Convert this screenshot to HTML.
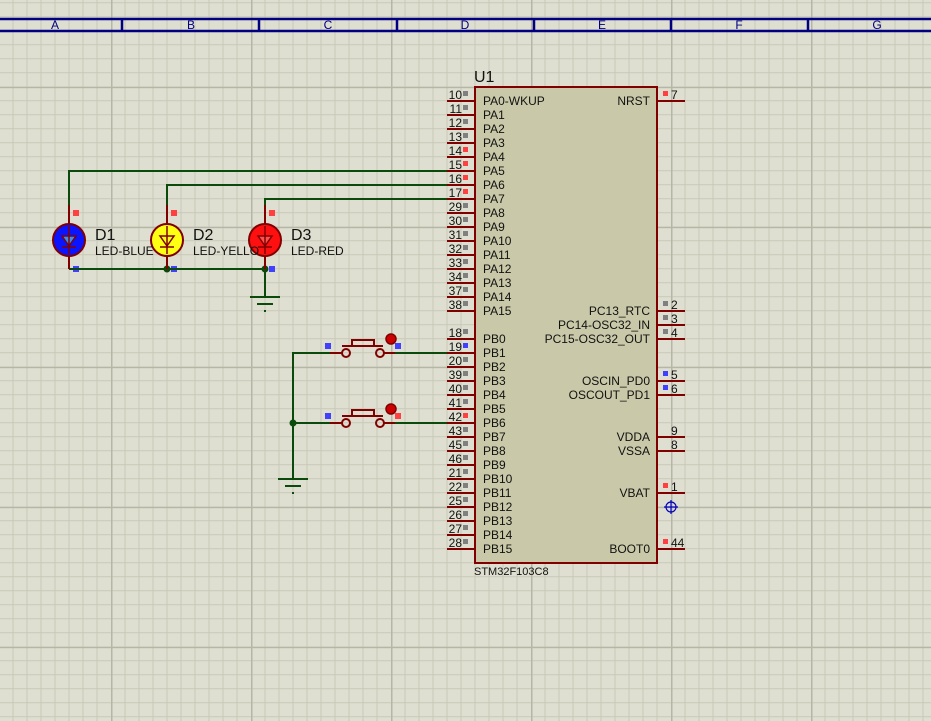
<!DOCTYPE html>
<html><head><meta charset="utf-8"><style>
html,body{margin:0;padding:0;background:#dfdfd1;}
svg{display:block;font-family:"Liberation Sans",Arial,sans-serif;}
</style></head><body>
<svg width="931" height="721" viewBox="0 0 931 721" xmlns="http://www.w3.org/2000/svg">
<defs>
<pattern id="g" x="-29" y="-53.3" width="140" height="140" patternUnits="userSpaceOnUse">
<rect width="140" height="140" fill="#dfdfd1"/>
<g stroke="#c9c9b9" stroke-width="1">
<path d="M14 0V140M28 0V140M42 0V140M56 0V140M70 0V140M84 0V140M98 0V140M112 0V140M126 0V140"/>
<path d="M0 14H140M0 28H140M0 42H140M0 56H140M0 70H140M0 84H140M0 98H140M0 112H140M0 126H140"/>
</g>
<path d="M0.5 0V140M0 0.5H140" stroke="#b6b6a6" stroke-width="2"/>
</pattern>
</defs>
<rect width="931" height="721" fill="url(#g)"/>

<!-- header -->
<g stroke="#000080" stroke-width="2.5">
<line x1="0" y1="19" x2="931" y2="19"/><line x1="0" y1="31" x2="931" y2="31"/>
<path d="M122 18V32M259 18V32M397 18V32M534 18V32M671 18V32M808 18V32"/>
</g>
<g fill="#000080" font-size="12" text-anchor="middle">
<text x="55" y="29">A</text><text x="191" y="29">B</text><text x="328" y="29">C</text><text x="465" y="29">D</text><text x="602" y="29">E</text><text x="739" y="29">F</text><text x="877" y="29">G</text>
</g>

<!-- chip -->
<text x="474" y="82" font-size="16" fill="#111">U1</text>
<rect x="475" y="87" width="182" height="476" fill="#c9c9a9" stroke="#800000" stroke-width="2"/>
<text x="474" y="575" font-size="11" fill="#111">STM32F103C8</text>

<g id="leftpins" stroke="#800000" stroke-width="2">
<path d="M447 101H475M447 115H475M447 129H475M447 143H475M447 157H475M447 171H475M447 185H475M447 199H475M447 213H475M447 227H475M447 241H475M447 255H475M447 269H475M447 283H475M447 297H475M447 311H475"/>
<path d="M447 339H475M447 353H475M447 367H475M447 381H475M447 395H475M447 409H475M447 423H475M447 437H475M447 451H475M447 465H475M447 479H475M447 493H475M447 507H475M447 521H475M447 535H475M447 549H475"/>
<path d="M657 101H685M657 311H685M657 325H685M657 339H685M657 381H685M657 395H685M657 437H685M657 451H685M657 493H685M657 549H685"/>
</g>
<g font-size="12" fill="#111">
<g text-anchor="end">
<text x="462" y="99">10</text><text x="462" y="113">11</text><text x="462" y="127">12</text><text x="462" y="141">13</text><text x="462" y="155">14</text><text x="462" y="169">15</text><text x="462" y="183">16</text><text x="462" y="197">17</text><text x="462" y="211">29</text><text x="462" y="225">30</text><text x="462" y="239">31</text><text x="462" y="253">32</text><text x="462" y="267">33</text><text x="462" y="281">34</text><text x="462" y="295">37</text><text x="462" y="309">38</text>
<text x="462" y="337">18</text><text x="462" y="351">19</text><text x="462" y="365">20</text><text x="462" y="379">39</text><text x="462" y="393">40</text><text x="462" y="407">41</text><text x="462" y="421">42</text><text x="462" y="435">43</text><text x="462" y="449">45</text><text x="462" y="463">46</text><text x="462" y="477">21</text><text x="462" y="491">22</text><text x="462" y="505">25</text><text x="462" y="519">26</text><text x="462" y="533">27</text><text x="462" y="547">28</text>
</g>
<g>
<text x="483" y="105">PA0-WKUP</text><text x="483" y="119">PA1</text><text x="483" y="133">PA2</text><text x="483" y="147">PA3</text><text x="483" y="161">PA4</text><text x="483" y="175">PA5</text><text x="483" y="189">PA6</text><text x="483" y="203">PA7</text><text x="483" y="217">PA8</text><text x="483" y="231">PA9</text><text x="483" y="245">PA10</text><text x="483" y="259">PA11</text><text x="483" y="273">PA12</text><text x="483" y="287">PA13</text><text x="483" y="301">PA14</text><text x="483" y="315">PA15</text>
<text x="483" y="343">PB0</text><text x="483" y="357">PB1</text><text x="483" y="371">PB2</text><text x="483" y="385">PB3</text><text x="483" y="399">PB4</text><text x="483" y="413">PB5</text><text x="483" y="427">PB6</text><text x="483" y="441">PB7</text><text x="483" y="455">PB8</text><text x="483" y="469">PB9</text><text x="483" y="483">PB10</text><text x="483" y="497">PB11</text><text x="483" y="511">PB12</text><text x="483" y="525">PB13</text><text x="483" y="539">PB14</text><text x="483" y="553">PB15</text>
</g>
<g text-anchor="end">
<text x="650" y="105">NRST</text><text x="650" y="315">PC13_RTC</text><text x="650" y="329">PC14-OSC32_IN</text><text x="650" y="343">PC15-OSC32_OUT</text><text x="650" y="385">OSCIN_PD0</text><text x="650" y="399">OSCOUT_PD1</text><text x="650" y="441">VDDA</text><text x="650" y="455">VSSA</text><text x="650" y="497">VBAT</text><text x="650" y="553">BOOT0</text>
</g>
<text x="671" y="99">7</text><text x="671" y="309">2</text><text x="671" y="323">3</text><text x="671" y="337">4</text><text x="671" y="379">5</text><text x="671" y="393">6</text><text x="671" y="435">9</text><text x="671" y="449">8</text><text x="671" y="491">1</text><text x="671" y="547">44</text>
</g>
<!-- pin squares -->
<g fill="#808080">
<rect x="463" y="91" width="5" height="5"/><rect x="463" y="105" width="5" height="5"/><rect x="463" y="119" width="5" height="5"/><rect x="463" y="133" width="5" height="5"/>
<rect x="463" y="203" width="5" height="5"/><rect x="463" y="217" width="5" height="5"/><rect x="463" y="231" width="5" height="5"/><rect x="463" y="245" width="5" height="5"/><rect x="463" y="259" width="5" height="5"/><rect x="463" y="273" width="5" height="5"/><rect x="463" y="287" width="5" height="5"/><rect x="463" y="301" width="5" height="5"/>
<rect x="463" y="329" width="5" height="5"/><rect x="463" y="357" width="5" height="5"/><rect x="463" y="371" width="5" height="5"/><rect x="463" y="385" width="5" height="5"/><rect x="463" y="399" width="5" height="5"/><rect x="463" y="427" width="5" height="5"/><rect x="463" y="441" width="5" height="5"/><rect x="463" y="455" width="5" height="5"/><rect x="463" y="469" width="5" height="5"/><rect x="463" y="483" width="5" height="5"/><rect x="463" y="497" width="5" height="5"/><rect x="463" y="511" width="5" height="5"/><rect x="463" y="525" width="5" height="5"/><rect x="463" y="539" width="5" height="5"/>
<rect x="663" y="301" width="5" height="5"/><rect x="663" y="315" width="5" height="5"/><rect x="663" y="329" width="5" height="5"/>
</g>
<g fill="#ff4040">
<rect x="463" y="147" width="5" height="5"/><rect x="463" y="161" width="5" height="5"/><rect x="463" y="175" width="5" height="5"/><rect x="463" y="189" width="5" height="5"/><rect x="463" y="413" width="5" height="5"/>
<rect x="663" y="91" width="5" height="5"/><rect x="663" y="483" width="5" height="5"/><rect x="663" y="539" width="5" height="5"/>
<rect x="73" y="210" width="6" height="6"/><rect x="171" y="210" width="6" height="6"/><rect x="269" y="210" width="6" height="6"/><rect x="395" y="413" width="6" height="6"/>
</g>
<g fill="#4040ff">
<rect x="463" y="343" width="5" height="5"/><rect x="663" y="371" width="5" height="5"/><rect x="663" y="385" width="5" height="5"/>
<rect x="73" y="266" width="6" height="6"/><rect x="171" y="266" width="6" height="6"/><rect x="269" y="266" width="6" height="6"/>
<rect x="325" y="343" width="6" height="6"/><rect x="395" y="343" width="6" height="6"/><rect x="325" y="413" width="6" height="6"/>
</g>
<!-- crosshair -->
<g stroke="#0000c0" stroke-width="1.2" fill="none"><circle cx="671" cy="507" r="5"/><path d="M664 507H678M671 500V514"/></g>

<!-- wires -->
<g stroke="#0a4a0a" stroke-width="2" fill="none">
<path d="M447 171H69V205"/><path d="M447 185H167V205"/><path d="M447 199H265V205"/>
<path d="M69 269H265V297"/>
<path d="M447 353H392M340 353H293V479"/><path d="M447 423H392M340 423H293"/>
</g>
<g fill="#0a4a0a"><circle cx="167" cy="269" r="3.5"/><circle cx="265" cy="269" r="3.5"/><circle cx="293" cy="423" r="3.5"/></g>
<g stroke="#0a4a0a" stroke-width="2">
<path d="M250 297H280M257 304H273M264 311H266"/>
<path d="M278 479H308M285 486H301M292 493H294"/>
</g>

<!-- LEDs -->
<g stroke="#800000" stroke-width="2">
<path d="M69 205V269M167 205V269M265 205V269"/>
<circle cx="69" cy="240" r="16" fill="#0a14ff"/>
<circle cx="167" cy="240" r="16" fill="#ffff14"/>
<circle cx="265" cy="240" r="16" fill="#ff1010"/>
</g>
<g stroke="#800000" stroke-width="1.5">
<path d="M62 236H76L69 246Z" fill="#3090ff"/><path d="M62 247H76M69 226V254"/>
<path d="M160 236H174L167 246Z" fill="#ffff14"/><path d="M160 247H174M167 226V254"/>
<path d="M258 236H272L265 246Z" fill="#ff5050"/><path d="M258 247H272M265 226V254"/>
</g>
<g fill="#111">
<text x="95" y="240" font-size="16">D1</text><text x="95" y="255" font-size="12">LED-BLUE</text>
<text x="193" y="240" font-size="16">D2</text><text x="193" y="255" font-size="12">LED-YELLO</text>
<text x="291" y="240" font-size="16">D3</text><text x="291" y="255" font-size="12">LED-RED</text>
</g>

<!-- buttons -->
<g stroke="#800000" stroke-width="2" fill="none">
<path d="M330 353H342M384 353H395"/><circle cx="346" cy="353" r="4"/><circle cx="380" cy="353" r="4"/>
<path d="M342 346H383"/><rect x="352" y="340" width="22" height="6"/>
<path d="M330 423H342M384 423H395"/><circle cx="346" cy="423" r="4"/><circle cx="380" cy="423" r="4"/>
<path d="M342 416H383"/><rect x="352" y="410" width="22" height="6"/>
</g>
<g fill="#cc0000" stroke="#800000" stroke-width="1.5">
<circle cx="391" cy="339" r="5"/><circle cx="391" cy="409" r="5"/>
</g>
</svg>
</body></html>
